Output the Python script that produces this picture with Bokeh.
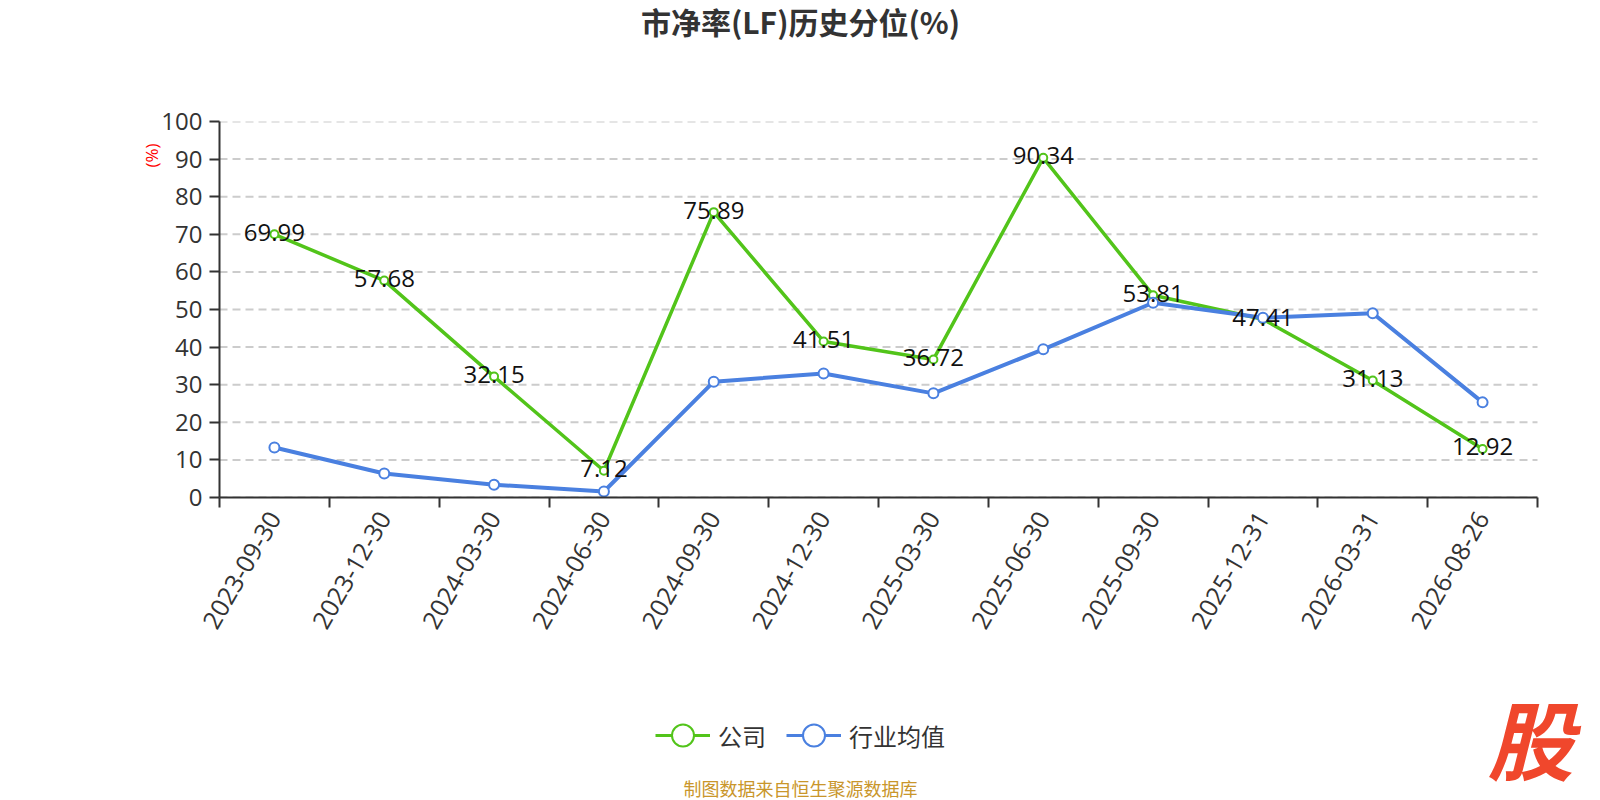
import math
from bokeh.plotting import figure
from bokeh.layouts import column
from bokeh.models import Range1d, FixedTicker, Legend, LegendItem, ColumnDataSource, Title
from bokeh.core.properties import value
from bokeh.embed import file_html
from bokeh.resources import INLINE

# ---- data ----
dates = ["2023-09-30", "2023-12-30", "2024-03-30", "2024-06-30", "2024-09-30", "2024-12-30",
         "2025-03-30", "2025-06-30", "2025-09-30", "2025-12-31", "2026-03-31", "2026-08-26"]
company = [69.99, 57.68, 32.15, 7.12, 75.89, 41.51, 36.72, 90.34, 53.81, 47.41, 31.13, 12.92]
industry = [13.3, 6.4, 3.4, 1.6, 30.8, 33.0, 27.7, 39.4, 51.8, 47.8, 49.0, 25.3]
y_ticks = [0, 10, 20, 30, 40, 50, 60, 70, 80, 90, 100]

title_text = "市净率(LF)历史分位(%)"
series_names = ["公司", "行业均值"]
unit_text = "(%)"
source_text = "制图数据来自恒生聚源数据库"
logo_text = "股"

GREEN = "#52c41a"
BLUE = "#4a80e0"
NUM_FONT = "Open Sans"
CJK_FONT = "Noto Sans CJK SC"
W = 1600
LEFT = 219          # frame left edge (px)
PLOT_W = 1318       # width of the category area (px)
n = len(dates)


def text_strip(height):
    # frames of plots in a column get aligned with the main chart's frame
    f = figure(width=W, height=height, output_backend="svg", toolbar_location=None,
               x_range=Range1d(LEFT, W), y_range=Range1d(height, 0),
               x_axis_type=None, y_axis_type=None,
               min_border_left=LEFT, min_border_right=0, min_border_top=0, min_border_bottom=0)
    f.outline_line_color = None
    f.grid.visible = False
    f.background_fill_color = "white"
    f.border_fill_color = "white"
    return f


# ---- title strip ----
top = text_strip(60)
top.text(x=[800], y=[20], text=[title_text], text_align="center", text_baseline="middle",
         text_font=value(CJK_FONT), text_font_style="bold", text_font_size="30px",
         text_color="#333333")

# ---- main chart ----
xs = list(range(n))
src = ColumnDataSource(dict(x=xs, company=company, industry=industry,
                            lab=[f"{v:.2f}" for v in company]))

x_end = n - 0.5 + (W - LEFT - PLOT_W) / (PLOT_W / n)
p = figure(width=W, height=600, output_backend="svg", toolbar_location=None,
           x_range=Range1d(-0.5, x_end), y_range=Range1d(0, 100),
           min_border_left=LEFT, min_border_right=0, min_border_top=61, min_border_bottom=163)
p.outline_line_color = None
p.background_fill_color = "white"
p.border_fill_color = "white"

xa = p.xaxis[0]
xa.bounds = (-0.5, n - 0.5)
xa.ticker = FixedTicker(ticks=xs, minor_ticks=[i - 0.5 for i in range(n + 1)])
xa.major_label_overrides = {i: d for i, d in zip(xs, dates)}
xa.major_tick_out = 0
xa.major_tick_in = 0
xa.minor_tick_out = 10
xa.minor_tick_in = 0
xa.minor_tick_line_color = "#333333"
xa.minor_tick_line_width = 2
xa.axis_line_color = "#333333"
xa.axis_line_width = 2
xa.major_label_orientation = math.pi / 3
xa.major_label_standoff = 6
xa.major_label_text_font = NUM_FONT
xa.major_label_text_font_size = "25px"
xa.major_label_text_color = "#333333"

ya = p.yaxis[0]
ya.ticker = FixedTicker(ticks=y_ticks, minor_ticks=[])
ya.major_tick_out = 10
ya.major_tick_in = 0
ya.major_tick_line_color = "#333333"
ya.major_tick_line_width = 2
ya.axis_line_color = "#333333"
ya.axis_line_width = 2
ya.major_label_standoff = 7
ya.major_label_text_font = NUM_FONT
ya.major_label_text_font_size = "24px"
ya.major_label_text_color = "#333333"

p.grid.visible = False
# dashed horizontal grid lines at the y ticks, spanning the category area only
p.segment(x0=[-0.5] * len(y_ticks), x1=[n - 0.5] * len(y_ticks), y0=y_ticks, y1=y_ticks,
          line_color="#cccccc", line_width=2, line_dash="8 5")

p.line("x", "company", source=src, line_color=GREEN, line_width=3.5)
p.scatter("x", "company", source=src, size=8, fill_color="white", line_color=GREEN, line_width=2)
p.line("x", "industry", source=src, line_color=BLUE, line_width=4)
p.scatter("x", "industry", source=src, size=10, fill_color="white", line_color=BLUE, line_width=2)

p.text("x", "company", text="lab", source=src, text_align="center", text_baseline="middle",
       text_font=value(NUM_FONT), text_font_size="24px", text_color="#111111", y_offset=-2)

p.add_layout(Title(text=unit_text, align="right", offset=22, standoff=-8, text_color="#ff0000",
                   text_font=NUM_FONT, text_font_style="normal", text_font_size="17px"), "left")

# ---- bottom strip: legend, source, logo ----
bot = text_strip(140)
off = ColumnDataSource(dict(x=[-5000], y=[-5000]))   # legend-only renderers, off-canvas
gl = bot.line("x", "y", source=off, line_color=GREEN, line_width=3)
gs = bot.scatter("x", "y", source=off, fill_color="white", line_color=GREEN, line_width=2)
bl = bot.line("x", "y", source=off, line_color=BLUE, line_width=3)
bs = bot.scatter("x", "y", source=off, fill_color="white", line_color=BLUE, line_width=2)
legend = Legend(items=[LegendItem(label=series_names[0], renderers=[gl, gs]),
                       LegendItem(label=series_names[1], renderers=[bl, bs])],
                location=(436, 36), orientation="horizontal",
                glyph_width=55, glyph_height=58, label_standoff=8, spacing=20,
                padding=0, margin=0, border_line_color=None, background_fill_alpha=0,
                label_text_font=CJK_FONT, label_text_font_size="24px", label_text_color="#333333")
bot.add_layout(legend)
bot.text(x=[800], y=[127], text=[source_text], text_align="center", text_baseline="middle",
         text_font=value(CJK_FONT), text_font_size="18px", text_color="#c9962b")
bot.text(x=[1530], y=[76], text=[logo_text], text_align="center", text_baseline="middle",
         text_font=value(CJK_FONT), text_font_style="bold italic", text_font_size="86px",
         text_color="#f0472c")

layout = column(top, p, bot, spacing=0)
open("out.html", "w").write(file_html(layout, INLINE))
